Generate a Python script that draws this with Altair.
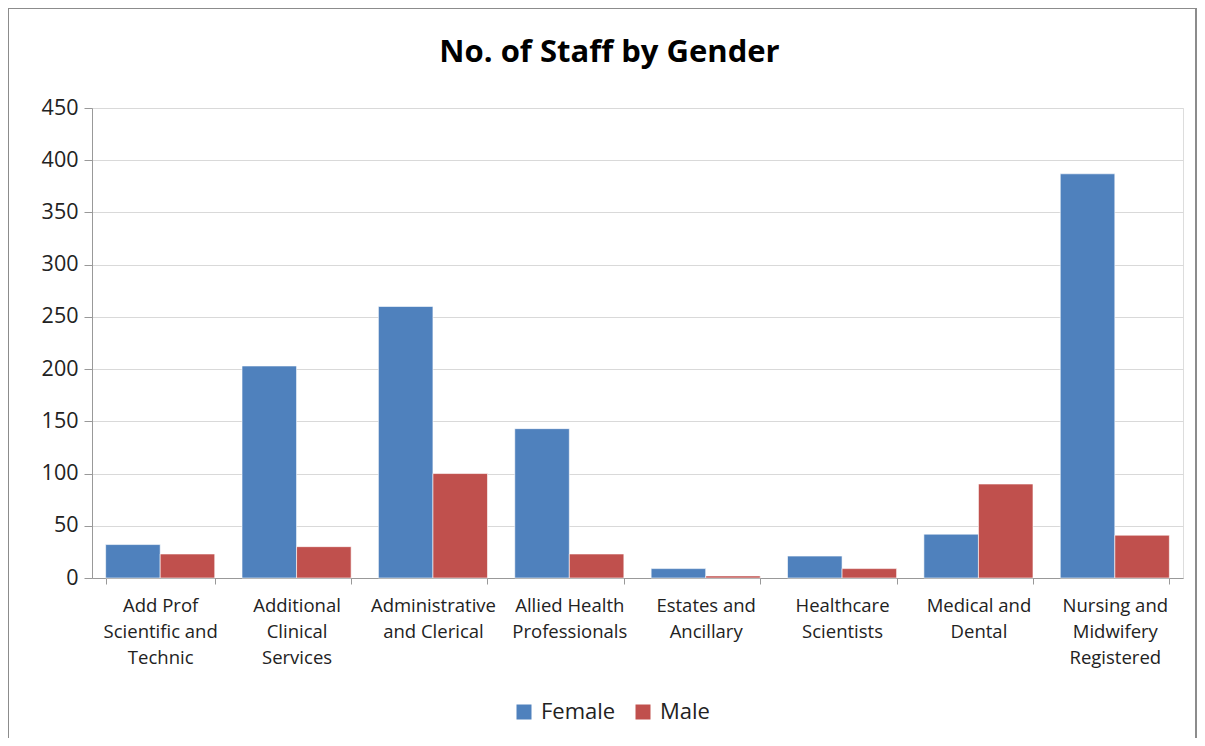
import altair as alt
import pandas as pd

categories = [
    "Add Prof Scientific and Technic",
    "Additional Clinical Services",
    "Administrative and Clerical",
    "Allied Health Professionals",
    "Estates and Ancillary",
    "Healthcare Scientists",
    "Medical and Dental",
    "Nursing and Midwifery Registered",
]
label_lines = [
    ["Add Prof", "Scientific and", "Technic"],
    ["Additional", "Clinical", "Services"],
    ["Administrative", "and Clerical"],
    ["Allied Health", "Professionals"],
    ["Estates and", "Ancillary"],
    ["Healthcare", "Scientists"],
    ["Medical and", "Dental"],
    ["Nursing and", "Midwifery", "Registered"],
]
female = [32, 203, 260, 143, 9, 21, 42, 387]
male = [23, 30, 100, 23, 2, 9, 90, 41]
genders = ["Female", "Male"]
colors = ["#4F81BD", "#C0504D"]
y_ticks = [0, 50, 100, 150, 200, 250, 300, 350, 400, 450]

rows = []
for c, f, m in zip(categories, female, male):
    rows.append({"Category": c, "Gender": "Female", "Count": f})
    rows.append({"Category": c, "Gender": "Male", "Count": m})
df = pd.DataFrame(rows)

lookup = "{" + ",".join(
    "'" + c + "':[" + ",".join("'" + l + "'" for l in lines) + "]"
    for c, lines in zip(categories, label_lines)
) + "}"

FONT = "Open Sans"

bars = alt.Chart(df).mark_bar(stroke="#ffffff", strokeOpacity=0.6, strokeWidth=1).encode(
    x=alt.X(
        "Category:N",
        sort=categories,
        title=None,
        scale=alt.Scale(paddingInner=0.2, paddingOuter=0.1),
        axis=alt.Axis(
            labelAngle=0,
            labelExpr=lookup + "[datum.label]",
            labelFontSize=18.5,
            labelLineHeight=26,
            labelPadding=12,
            labelColor="#222222",
            labelFont=FONT,
            tickBand="extent",
            tickSize=6,
            tickColor="#999999",
            domainColor="#999999",
            grid=False,
        ),
    ),
    xOffset=alt.XOffset("Gender:N", sort=genders),
    y=alt.Y(
        "Count:Q",
        title=None,
        scale=alt.Scale(domain=[0, 450], nice=False),
        axis=alt.Axis(
            values=y_ticks,
            labelFontSize=21.5,
            labelFont=FONT,
            labelColor="#222222",
            labelPadding=6,
            tickSize=8,
            tickColor="#999999",
            domainColor="#999999",
            gridColor="#d9d9d9",
        ),
    ),
    color=alt.Color(
        "Gender:N",
        sort=genders,
        scale=alt.Scale(domain=genders, range=colors),
        legend=alt.Legend(
            title=None,
            orient="none",
            direction="horizontal",
            legendX=421,
            legendY=593,
            symbolType="square",
            symbolSize=225,
            symbolStrokeWidth=0,
            labelFontSize=22,
            labelFont=FONT,
            labelColor="#222222",
            columnPadding=16,
            labelOffset=6,
            symbolOffset=0,
        ),
    ),
)

frame = alt.Chart(pd.DataFrame({"a": [0]})).mark_rect(
    fill=None, stroke="#8c8c8c", strokeWidth=2
).encode(
    x=alt.value(-84), x2=alt.value(1104), y=alt.value(-100), y2=alt.value(660)
)

chart = alt.layer(frame, bars).properties(
    width=1091,
    height=470,
    autosize=alt.AutoSizeParams(type="none"),
    padding={"left": 84, "top": 100, "right": 14, "bottom": 160},
    title=alt.Title(
        "No. of Staff by Gender",
        fontSize=31,
        font=FONT,
        fontWeight="bold",
        color="#000000",
        anchor="middle",
        dx=-28,
        offset=-62,
    ),
).configure_view(stroke=None).configure(background="white")

chart.save("out.html", embed_options={"renderer": "svg", "actions": False})
